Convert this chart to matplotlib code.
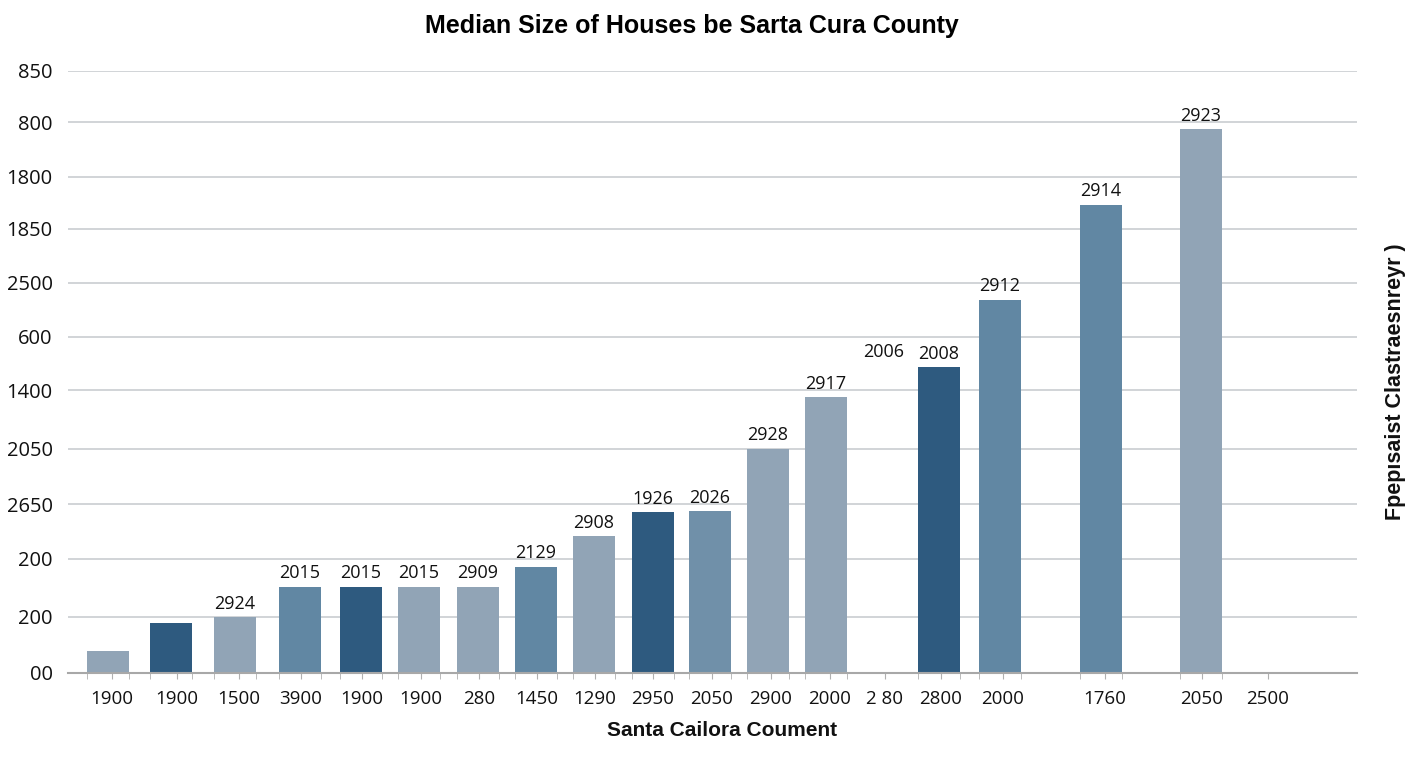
import matplotlib
matplotlib.use("Agg")
import matplotlib.pyplot as plt

# x slots (category labels along the bottom) and where they sit
x_labels = ["1900", "1900", "1500", "3900", "1900", "1900", "280", "1450", "1290",
            "2950", "2050", "2900", "2000", "2 80", "2800", "2000", "1760", "2050", "2500"]
x_label_pos = [112, 177, 239, 301, 362, 421, 479, 537, 595, 653, 712, 771, 830,
               885, 941, 1003, 1105, 1202, 1268]

# bars: centre, height (chart units), value label, shade
bar_x = [108, 171, 235, 300, 361, 419, 478, 536, 594, 653, 710, 768, 826,
         939, 1000, 1101, 1201]
bar_h = [22, 50, 56, 86.5, 86.5, 86.5, 86.5, 106.5, 137, 161, 162, 224.5, 276,
         306, 373.5, 468.5, 544]
bar_text = ["", "", "2924", "2015", "2015", "2015", "2909", "2129", "2908", "1926",
            "2026", "2928", "2917", "2008", "2912", "2914", "2923"]
bar_shade = ["light", "dark", "light", "mid", "dark", "light", "light", "mid", "light",
             "dark", "mid2", "light", "light", "dark", "mid", "mid", "light"]

# stray label with no bar under it
stray_text = "2006"
stray_x = 884
stray_y = 312

y_ticks = [0, 56, 114, 169, 224, 283, 336, 390, 444, 496, 551, 602]
y_labels = ["00", "200", "200", "2650", "2050", "1400", "600", "2500", "1850",
            "1800", "800", "850"]

colors = {"dark": "#2e5a7f", "mid": "#6187a3", "mid2": "#7090a9", "light": "#91a4b6"}

fig = plt.figure(figsize=(14.08, 7.68), dpi=100)
ax = fig.add_axes([68 / 1408, 95 / 768, (1357 - 68) / 1408, (673 - 71) / 768])

ax.bar(bar_x, bar_h, width=42, color=[colors[s] for s in bar_shade], zorder=3)
for x, h, t in zip(bar_x, bar_h, bar_text):
    if t:
        ax.annotate(t, (x, h), xytext=(0, 3), textcoords="offset points",
                    ha="center", va="bottom", fontsize=13, family="Open Sans",
                    color="#111111", zorder=4)
ax.text(stray_x, stray_y, stray_text, ha="center", va="bottom", fontsize=13,
        family="Open Sans", color="#111111")

ax.set_xlim(68, 1357)
ax.set_ylim(0, 602)

ax.set_yticks(y_ticks)
ax.set_yticklabels(y_labels, family="Open Sans", fontsize=14.5, color="#111111")
ax.tick_params(axis="y", length=0, pad=11)
ax.grid(axis="y", color="#c9cdd1", linewidth=1.2, zorder=0)

ax.set_xticks(x_label_pos)
ax.set_xticklabels(x_labels, family="Open Sans", fontsize=13.5, color="#111111")
edges = []
for x in bar_x:
    edges += [x - 21, x + 21]
ax.set_xticks(edges, minor=True)
ax.tick_params(axis="x", which="both", length=4, color="#b0b0b0", pad=8)

for s in ["top", "right", "left"]:
    ax.spines[s].set_visible(False)
ax.spines["bottom"].set_color("#a8a8a8")
ax.spines["bottom"].set_linewidth(1.5)
ax.spines["bottom"].set_zorder(5)

fig.text(692 / 1408, 1 - 26 / 768, "Median Size of Houses be Sarta Cura County",
         ha="center", va="center", fontsize=18, fontweight="bold",
         family="Liberation Sans")
fig.text(722 / 1408, 1 - 731 / 768, "Santa Cailora Coument", ha="center", va="center",
         fontsize=15, fontweight="bold", family="Liberation Sans", color="#111111")
fig.text(1396 / 1408, 1 - 382 / 768, "Fpepısaist Clastraesnreyr )", ha="center",
         va="center", rotation=90, fontsize=15.5, fontweight="bold",
         family="Liberation Sans", color="#111111")

fig.savefig("out.png", dpi=100, facecolor="white")
